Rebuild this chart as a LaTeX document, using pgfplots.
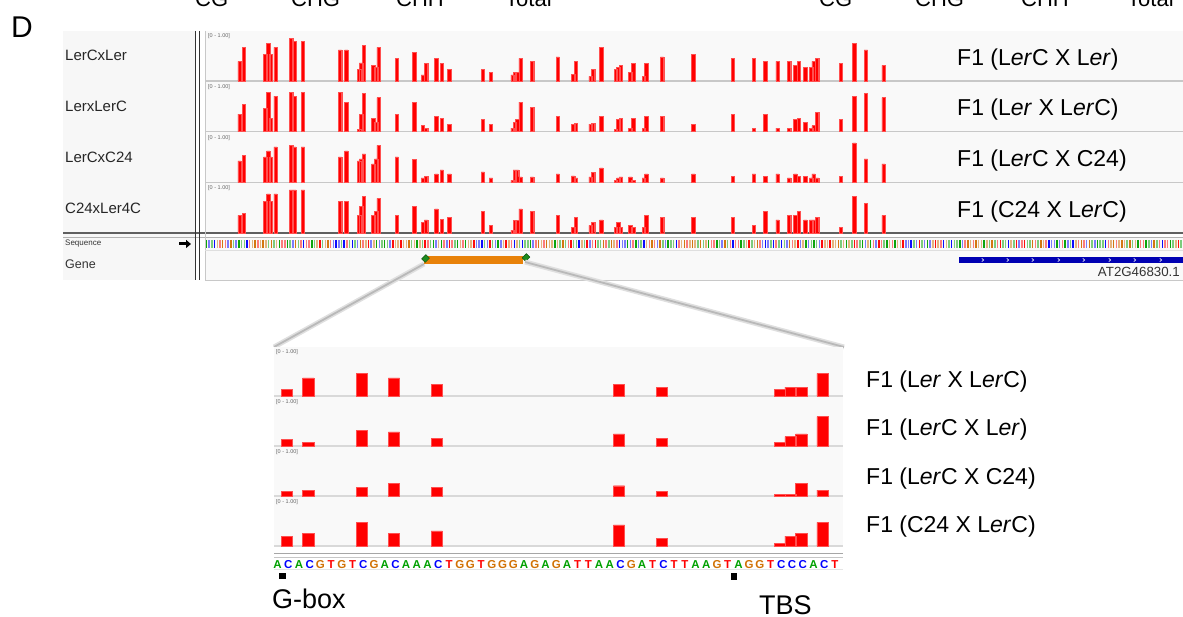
\documentclass[border=0pt]{standalone}
\usepackage{fontspec}
\setmainfont{Liberation Sans}
\usepackage{pgfplots}
\pgfplotsset{compat=1.18}
\usepackage{pgfplotstable}
\usetikzlibrary{arrows.meta}

\definecolor{bg}{HTML}{F9F9F9}
\definecolor{lblbg}{HTML}{F7F7F7}
\definecolor{sep}{HTML}{C8C8C8}
\definecolor{igvred}{HTML}{FF0000}
\definecolor{barEdge}{HTML}{FF5050}
\definecolor{colA}{HTML}{00A000}
\definecolor{colC}{HTML}{0000FF}
\definecolor{colG}{HTML}{D17105}
\definecolor{colT}{HTML}{FF0000}
\definecolor{geneOr}{HTML}{E8820A}
\definecolor{geneBl}{HTML}{0000B2}
\definecolor{diam}{HTML}{1E8C1E}

% top panel: x position (px), heights of the four tracks (data range 0-1)
\pgfplotstableread{
x t1 t2 t3 t4
239.5 0.39 0.35 0.43 0.35
243.7 0.67 0.55 0.54 0.39
265.3 0.53 0.47 0.51 0.63
268.2 0.75 0.79 0.63 0.78
270.5 0.53 0.27 0.51 0.63
275.5 0.67 0.71 0.71 0.78
291.0 0.85 0.79 0.74 0.86
294.3 0.79 0.71 0.71 0.86
302.8 0.79 0.79 0.71 0.86
340.0 0.62 0.79 0.51 0.63
346.2 0.62 0.59 0.63 0.63
359.0 0.23 0.05 0.43 0.35
361.0 0.36 0.35 0.47 0.53
363.8 0.71 0.76 0.57 0.73
373.2 0.31 0.27 0.37 0.35
376.0 0.27 0.18 0.47 0.43
378.5 0.67 0.68 0.74 0.69
396.7 0.45 0.35 0.51 0.35
414.2 0.57 0.59 0.46 0.53
422.7 0.12 0.12 0.09 0.21
426.0 0.35 0.07 0.12 0.26
436.3 0.45 0.30 0.17 0.48
441.7 0.35 0.27 0.25 0.27
449.3 0.23 0.15 0.17 0.31
482.7 0.23 0.25 0.21 0.43
490.8 0.17 0.15 0.09 0.15
512.5 0.12 0.07 0.04 0.05
514.7 0.17 0.19 0.25 0.25
517.0 0.17 0.25 0.25 0.25
520.5 0.45 0.59 0.11 0.48
532.0 0.39 0.48 0.11 0.43
557.7 0.48 0.30 0.17 0.35
573.0 0.13 0.15 0.13 0.11
575.8 0.39 0.17 0.09 0.31
590.5 0.09 0.15 0.11 0.15
593.0 0.23 0.17 0.20 0.21
601.2 0.67 0.30 0.29 0.26
615.7 0.23 0.05 0.04 0.11
618.2 0.27 0.25 0.09 0.21
620.8 0.31 0.27 0.11 0.11
630.3 0.17 0.07 0.11 0.15
633.3 0.35 0.27 0.04 0.11
643.7 0.09 0.07 0.09 0.11
646.3 0.35 0.30 0.17 0.35
662.0 0.48 0.30 0.09 0.31
693.2 0.53 0.15 0.17 0.31
732.8 0.45 0.35 0.12 0.31
753.8 0.45 0.07 0.17 0.15
765.3 0.39 0.35 0.12 0.43
777.5 0.39 0.07 0.17 0.26
789.0 0.39 0.07 0.09 0.35
795.3 0.31 0.25 0.17 0.35
798.8 0.39 0.27 0.12 0.43
805.2 0.27 0.18 0.12 0.26
811.0 0.27 0.07 0.09 0.26
813.5 0.39 0.12 0.17 0.26
817.0 0.45 0.39 0.09 0.31
840.8 0.35 0.25 0.12 0.11
854.2 0.75 0.71 0.79 0.73
865.8 0.62 0.76 0.47 0.59
883.5 0.31 0.68 0.37 0.35
}\toptab

% zoomed panel: base index, heights of the four tracks
\pgfplotstableread{
i b1 b2 b3 b4
1 0.14 0.13 0.09 0.20
3 0.37 0.075 0.12 0.26
8 0.46 0.32 0.18 0.48
11 0.37 0.29 0.26 0.26
15 0.24 0.16 0.18 0.31
32 0.24 0.245 0.21 0.43
36 0.18 0.16 0.09 0.16
47 0.14 0.075 0.035 0.055
48 0.18 0.19 0.035 0.20
49 0.18 0.245 0.26 0.26
51 0.46 0.60 0.12 0.48
}\bottab

\pgfplotsset{
  trk/.style={anchor=south west, scale only axis, axis lines=none, ticks=none,
    ymin=0, ymax=1, clip=false, ybar, bar width=#1},
  topt/.style={trk=3.4, width=978pt, height=50pt, xmin=205, xmax=1183},
  bott/.style={trk=1.05, width=568pt, height=49pt, xmin=-0.19, xmax=52.81},
  barst/.style={fill=igvred, draw=barEdge, line width=0.4pt},
}

\newcommand{\fo}{\fontsize{23}{27}\selectfont}
\newcommand{\rng}{\fontsize{5.5}{6}\selectfont}

\begin{document}
\begin{tikzpicture}[x=1pt,y=-1pt]
\useasboundingbox (0,0) rectangle (1183,617);

% cut-off column headings at the very top (cut off in the reference as well)
\begin{scope}
\clip (0,0) rectangle (1183,617);
\foreach \t/\xx in {CG/195,CHG/291,CHH/396,Total/505,CG/819,CHG/915,CHH/1021,Total/1127}
  \node[anchor=base west, inner sep=0, font=\fontsize{22}{24}\selectfont] at (\xx,6.5) {\t};
\end{scope}

\node[anchor=base west, inner sep=0, font=\fontsize{30}{32}\selectfont] at (11,38) {D};

% ---------- top IGV panel ----------
\fill[lblbg] (63,31) rectangle (195,280);
\fill[bg] (205,31) rectangle (1183,233);
\fill[bg] (205,238) rectangle (1183,280);
\foreach \yy in {81,131.7,182.3} \draw[sep, line width=1.5pt] (205,\yy) -- (1183,\yy);
\draw[gray!75!black, line width=2pt] (63,233.5) -- (1183,233.5);
\draw[gray!60, line width=0.8pt] (63,237.6) -- (1183,237.6);
\draw[black!80, line width=0.8pt] (195,31) -- (195,280);
\draw[black!80, line width=0.8pt] (199,31) -- (199,280);
\draw[sep, line width=0.8pt] (205,31) -- (205,280);
\draw[sep, line width=0.8pt] (205,280) -- (1183,280);
\draw[gray!25, line width=0.8pt] (205,250) -- (1183,250);

\foreach \lab/\yy in {LerCxLer/55,LerxLerC/106,LerCxC24/157,C24xLer4C/208}
  \node[anchor=west, inner sep=0, font=\fontsize{15}{18}\selectfont, text=black!85] at (65,\yy) {\lab};
\foreach \yy in {36.5,87.2,137.8,188.4}
  \node[anchor=west, inner sep=0, font=\rng, text=black!60] at (208,\yy) {[0 - 1.00]};

\begin{axis}[topt, at={(205pt,-81pt)}]
  \addplot[barst] table[x=x, y=t1] {\toptab};
\end{axis}
\begin{axis}[topt, at={(205pt,-131.7pt)}]
  \addplot[barst] table[x=x, y=t2] {\toptab};
\end{axis}
\begin{axis}[topt, at={(205pt,-182.3pt)}]
  \addplot[barst] table[x=x, y=t3] {\toptab};
\end{axis}
\begin{axis}[topt, at={(205pt,-233pt)}]
  \addplot[barst] table[x=x, y=t4] {\toptab};
\end{axis}

\node[anchor=west, inner sep=0, font=\fo] at (957,60) {F1 (L\textit{er}C X L\textit{er})};
\node[anchor=west, inner sep=0, font=\fo] at (957,110) {F1 (L\textit{er} X L\textit{er}C)};
\node[anchor=west, inner sep=0, font=\fo] at (957,161) {F1 (L\textit{er}C X C24)};
\node[anchor=west, inner sep=0, font=\fo] at (957,212) {F1 (C24 X L\textit{er}C)};

% sequence row
\foreach \k in {0,...,361}{%
  \pgfmathtruncatemacro\b{{0,1,0,1,2,3,2,3,1,2,0,1,0,0,0,1,3,2,2,3,2,2,2,0,2,0,2,0,3,3,0,0,1,2,0,3,1,3,3,0,0,2,3,0,2,2,3,1,1,1,0,1,3}[mod(\k,53)]}%
  \pgfmathtruncatemacro\s{mod(\k*7,3)}%
  \ifcase\b\def\cc{colA}\or\def\cc{colC}\or\def\cc{colG}\else\def\cc{colT}\fi
  \ifnum\s=0\def\op{0.95}\else\def\op{0.5}\fi
  \draw[\cc, draw opacity=\op, line width=1.5pt] ({206.5+2.7*\k},240) -- ({206.5+2.7*\k},248.5);
}
\node[anchor=west, inner sep=0, font=\fontsize{8}{9}\selectfont, text=black!80] at (65,244) {Sequence};
\draw[line width=3pt, -{Triangle[length=5pt,width=8pt]}] (179,244) -- (191,244);
\node[anchor=west, inner sep=0, font=\fontsize{12.5}{14}\selectfont, text=black!80] at (65,264) {Gene};

% gene models
\fill[geneOr] (424,256) rectangle (523,264);
\fill[diam, draw=diam!60!black, line width=0.4pt, rotate around={45:(425.5,258.5)}] (422.5,256) rectangle (428.5,261);
\fill[diam, draw=diam!60!black, line width=0.4pt, rotate around={45:(526,257.5)}] (523,255) rectangle (529,260);
\fill[geneBl] (959,257) rectangle (1183,263);
\foreach \xx in {983,1008,1033,1059,1084,1110,1135,1161}
  \draw[white, line width=0.6pt] (\xx-1.2,258.4) -- (\xx+0.6,260) -- (\xx-1.2,261.6);
\node[anchor=base east, inner sep=0, font=\fontsize{13.3}{15}\selectfont, text=black!80] at (1180,276.5) {AT2G46830.1};

% zoom connector
\draw[gray!25, line width=5pt] (424,264) -- (274,347);
\draw[gray!25, line width=5pt] (525,262) -- (844,347);
\draw[gray!55, line width=1.8pt] (424,264) -- (274,347);
\draw[gray!55, line width=1.8pt] (525,262) -- (844,347);

% ---------- zoomed panel ----------
\fill[bg] (274,347) rectangle (843,546);
\foreach \yy in {396,446,496,546} \draw[gray!30, line width=1.5pt] (274,\yy) -- (843,\yy);
\draw[gray!70, line width=1.6pt] (274,553.5) -- (843,553.5);
\draw[gray!45, line width=0.8pt] (274,557) -- (843,557);
\draw[gray!20, line width=0.8pt] (274,569.5) -- (843,569.5);
\foreach \yy in {352,402,452,502}
  \node[anchor=west, inner sep=0, font=\rng, text=black!60] at (276,\yy) {[0 - 1.00]};

\begin{axis}[bott, at={(274pt,-396pt)}]
  \addplot[barst] table[x=i, y=b1] {\bottab};
\end{axis}
\begin{axis}[bott, at={(274pt,-446pt)}]
  \addplot[barst] table[x=i, y=b2] {\bottab};
\end{axis}
\begin{axis}[bott, at={(274pt,-496pt)}]
  \addplot[barst] table[x=i, y=b3] {\bottab};
\end{axis}
\begin{axis}[bott, at={(274pt,-546pt)}]
  \addplot[barst] table[x=i, y=b4] {\bottab};
\end{axis}

\foreach \b [count=\k from 0] in {A,C,A,C,G,T,G,T,C,G,A,C,A,A,A,C,T,G,G,T,G,G,G,A,G,A,G,A,T,T,A,A,C,G,A,T,C,T,T,A,A,G,T,A,G,G,T,C,C,C,A,C,T}
  \node[inner sep=0, text=col\b, font=\fontsize{11.5}{12}\selectfont\bfseries] at ({277.5+10.72*\k},564.5) {\b};

\fill (279,572.5) rectangle (285.5,579);
\fill (730.5,573) rectangle (737,579.5);
\node[anchor=base west, inner sep=0, font=\fontsize{27}{30}\selectfont] at (272,608) {G-box};
\node[anchor=base west, inner sep=0, font=\fontsize{27}{30}\selectfont] at (759,614) {TBS};

\node[anchor=west, inner sep=0, font=\fo] at (866,381.5) {F1 (L\textit{er} X L\textit{er}C)};
\node[anchor=west, inner sep=0, font=\fo] at (866,430) {F1 (L\textit{er}C X L\textit{er})};
\node[anchor=west, inner sep=0, font=\fo] at (866,478.5) {F1 (L\textit{er}C X C24)};
\node[anchor=west, inner sep=0, font=\fo] at (866,527) {F1 (C24 X L\textit{er}C)};
\end{tikzpicture}
\end{document}
